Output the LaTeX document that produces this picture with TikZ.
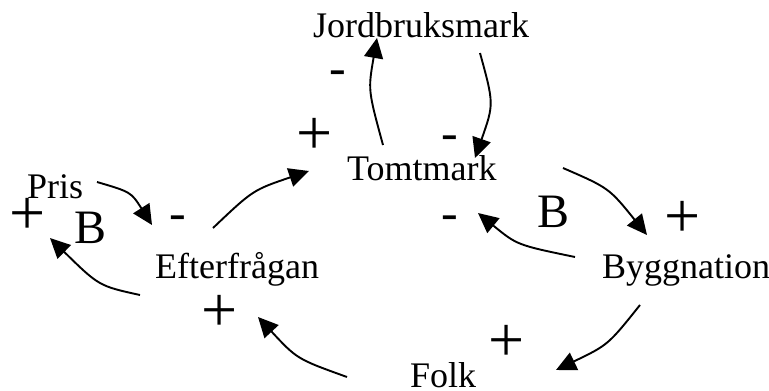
\documentclass[tikz,border=0pt]{standalone}
\usepackage{fontspec}
\setmainfont{Liberation Serif}
\usetikzlibrary{arrows.meta}
\begin{document}
\begin{tikzpicture}[x=1pt,y=-1pt,
  lbl/.style={inner sep=0pt,anchor=base west,font=\fontsize{36}{40}\selectfont},
  plussign/.style={inner sep=0pt,anchor=center,font=\fontsize{64}{70}\selectfont},
  minussign/.style={inner sep=0pt,anchor=center,yshift=-6pt,font=\fontsize{50}{56}\selectfont},
  loopsign/.style={inner sep=0pt,anchor=center,font=\fontsize{48}{54}\selectfont},
  link/.style={line width=1.9pt,-{Triangle[length=20pt,width=19pt]}}]
\useasboundingbox (0,0) rectangle (769,391);
% variables
\node[lbl] (jord) at (313,37) {Jordbruksmark};
\node[lbl] (tomt) at (347,180) {Tomtmark};
\node[lbl] (pris) at (27,198) {Pris};
\node[lbl] (eft) at (155,278) {Efterfrågan};
\node[lbl] (bygg) at (602,278) {Byggnation};
\node[lbl] (folk) at (410,387) {Folk};
% polarity and loop signs
\node[plussign] (p1) at (28,216) {+};
\node[loopsign] (b1) at (91,228) {B};
\node[minussign] (m1) at (178,217) {-};
\node[minussign] (m2) at (338,72) {-};
\node[plussign] (p2) at (315,136) {+};
\node[minussign] (m3) at (450,137) {-};
\node[minussign] (m4) at (450,217) {-};
\node[loopsign] (b2) at (554,212) {B};
\node[plussign] (p3) at (683,219) {+};
\node[plussign] (p4) at (220,313) {+};
\node[plussign] (p5) at (507,343) {+};
% connector end points
\coordinate (a1s) at (97,182);  \coordinate (a1e) at (152,225);
\coordinate (a2s) at (140,295); \coordinate (a2e) at (50,238);
\coordinate (a3s) at (213,228); \coordinate (a3e) at (309,171);
\coordinate (a4s) at (383,145); \coordinate (a4e) at (377,38);
\coordinate (a5s) at (480,53);  \coordinate (a5e) at (475,158);
\coordinate (a6s) at (563,168); \coordinate (a6e) at (647,235);
\coordinate (a7s) at (575,257); \coordinate (a7e) at (478,213);
\coordinate (a8s) at (640,305); \coordinate (a8e) at (556,370);
\coordinate (a9s) at (347,377); \coordinate (a9e) at (258,317);
% connectors
\draw[link] (a1s) .. controls (131,192) .. (a1e);
\draw[link] (a2s) .. controls (99,286) .. (a2e);
\draw[link] (a3s) .. controls (253,190) .. (a3e);
\draw[link] (a4s) .. controls (368,90) .. (a4e);
\draw[link] (a5s) .. controls (494,104) .. (a5e);
\draw[link] (a6s) .. controls (609,188) .. (a6e);
\draw[link] (a7s) .. controls (517,245) .. (a7e);
\draw[link] (a8s) .. controls (608,345) .. (a8e);
\draw[link] (a9s) .. controls (297,359) .. (a9e);
\end{tikzpicture}
\end{document}
